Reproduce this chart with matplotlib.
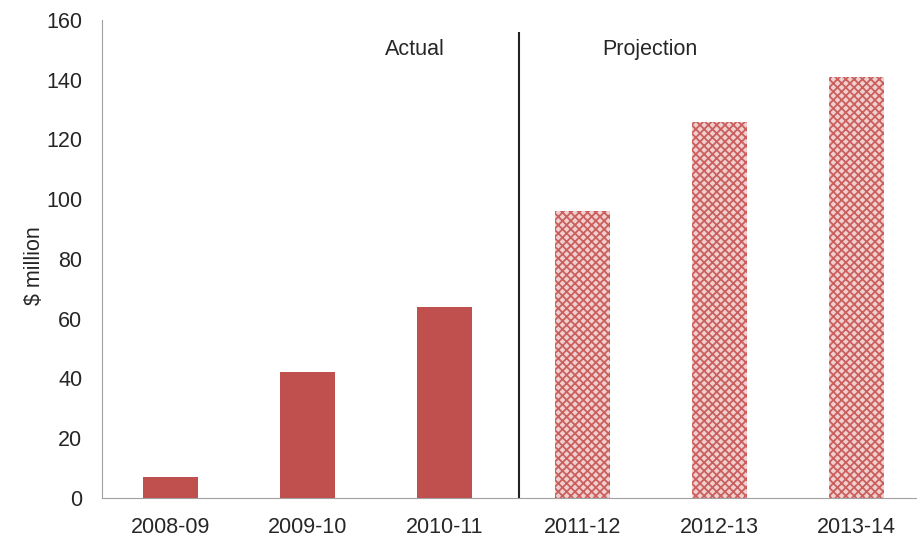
import matplotlib.pyplot as plt

years = ["2008-09", "2009-10", "2010-11", "2011-12", "2012-13", "2013-14"]
actual = [7, 42, 64]
projection = [96, 126, 141]


def main():
    plt.rcParams['font.family'] = ['Liberation Sans', 'DejaVu Sans']
    plt.rcParams['hatch.linewidth'] = 1.3

    fig = plt.figure(figsize=(9.17, 5.4), dpi=100)
    ax = fig.add_axes([0.111, 0.078, 0.898, 0.885])

    n_act = len(actual)
    x_act = range(n_act)
    x_proj = range(n_act, n_act + len(projection))

    ax.bar(x_act, actual, width=0.4, color="#c0504d")
    ax.bar(x_proj, projection, width=0.4, facecolor="#f0cfce",
           edgecolor="#c9605d", hatch="xxxx", linewidth=0)

    txt = "#262626"
    fs = 15.5
    ax.vlines(n_act - 0.46, 0, 156, color="#222222", linewidth=1.5)
    ax.text(1.78, 150, "Actual", ha="center", va="center", fontsize=fs,
            color=txt)
    ax.text(3.49, 150, "Projection", ha="center", va="center", fontsize=fs,
            color=txt)

    ax.set_xlim(-0.5, len(years) - 0.5)
    ax.set_ylim(0, 160)
    ax.set_xticks(range(len(years)))
    ax.set_xticklabels(years)
    ax.set_yticks(range(0, 161, 20))
    ax.tick_params(length=0, labelsize=fs, labelcolor=txt)
    ax.tick_params(axis="x", pad=14)
    ax.tick_params(axis="y", pad=14)
    ax.set_ylabel("$ million", fontsize=fs, color=txt)
    ax.yaxis.set_label_coords(-0.0695, 0.485)

    for side in ["top", "right"]:
        ax.spines[side].set_visible(False)
    for side in ["left", "bottom"]:
        ax.spines[side].set_color("#a0a0a0")

    fig.savefig("out.png")


if __name__ == "__main__":
    main()
